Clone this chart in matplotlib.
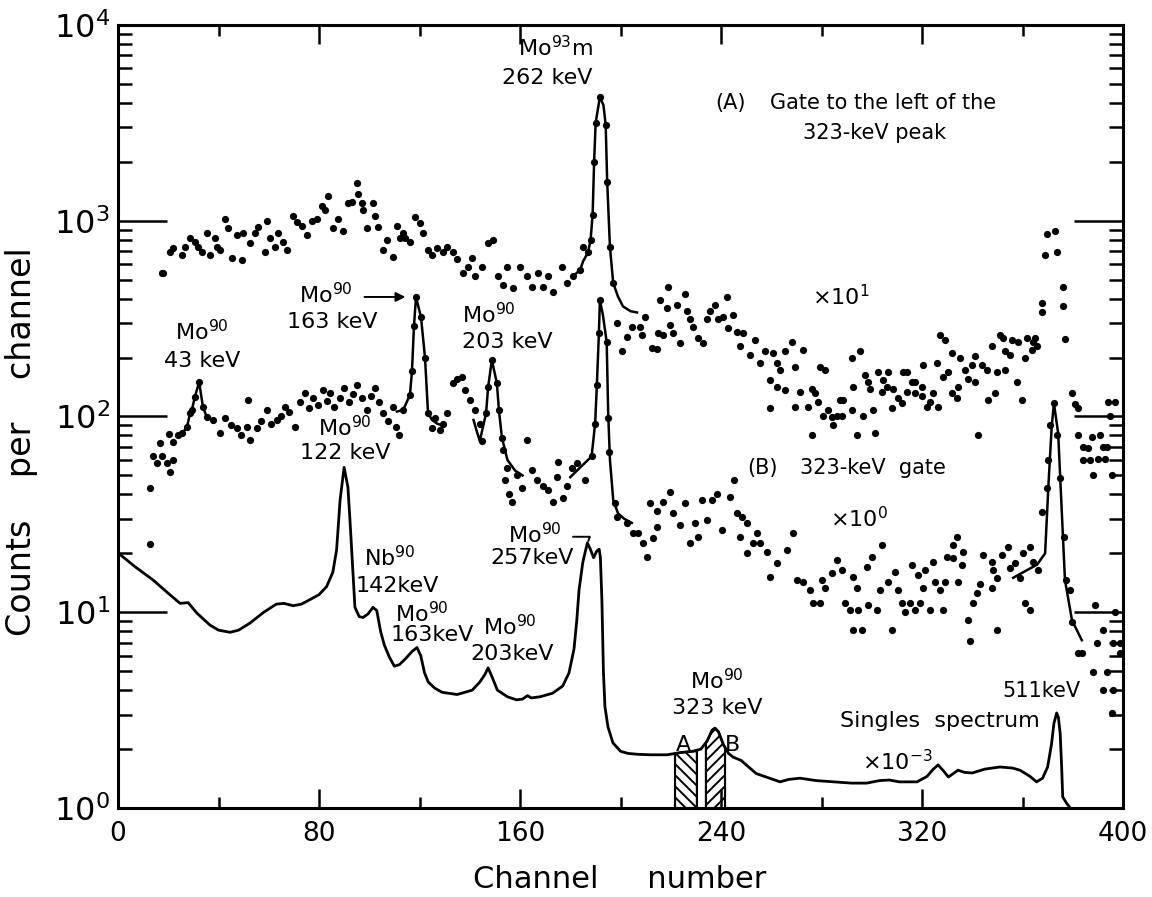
import matplotlib
matplotlib.use("Agg")
import matplotlib.pyplot as plt
from matplotlib.ticker import FixedLocator, LogLocator, MultipleLocator, NullFormatter
import numpy as np

plt.rcParams['font.family'] = ['DejaVu Sans']
plt.rcParams['mathtext.default'] = 'regular'
plt.rcParams['hatch.linewidth'] = 1.4

# (A) gate to the left of the 323-keV peak, x10^1
gate_a_ch = [17.5, 18, 20.7, 22, 25.5, 26.7, 28.7, 30.6, 32, 33.4, 35.4, 36.6, 38.6, 39.4,
             40.6, 42.6, 43.8, 45.4, 47.3, 49.4, 49.8, 52.5, 54.5, 55.7, 58.5, 59.3, 60.5,
             62.5, 63.7, 65.7, 67.2, 69.7, 71.2, 73.2, 75.2, 77.2, 79.2, 81.2, 82.4, 83.6,
             85.6, 87.6, 89.6, 91.5, 93, 95, 95.5, 97, 97.5, 99, 101.5, 102.3, 103.5, 105.5,
             107, 109.5, 111, 112.2, 113.5, 114.2, 116.2, 118.2, 120.2, 121.4, 123.4, 125,
             127, 129.4, 131, 133.3, 135, 137.3, 139.3, 140.9, 142.1, 144.9, 147.3, 149.3,
             151.2, 153.2, 154.8, 157.2, 160, 162.7, 164.8, 167.2, 169.2, 171.1, 173.1,
             176.7, 178.7, 181.1, 183.9, 185.1, 187.1, 188.1, 188.9, 189.5, 190.1, 191.8,
             194.1, 194.7, 195.8, 197.1, 198.6, 200.6, 202.6, 204.6, 207.8, 208.6, 209.8,
             212.5, 214.5, 215, 215.7, 217, 218.5, 219, 219.7, 221, 222.5, 223.7, 225.7,
             226.5, 227.7, 228.9, 231, 232.8, 234.4, 235.6, 237.6, 238.8, 240.8, 242.4,
             242.8, 244.8, 246.4, 247.6, 248.8, 251.5, 253.5, 255.5, 257.5, 259.5, 259.5,
             260.7, 262.3, 262.3, 263.5, 265.5, 265.5, 268.3, 269.5, 269.5, 271.4, 272.6,
             274.6, 276.2, 276.2, 277.4, 278.6, 279.4, 280.6, 281.4, 282.6, 284.2, 284.6,
             286.2, 287.4, 288.2, 288.6, 292.1, 292.1, 292.6, 294.1, 295.3, 296.5, 297.3,
             298.5, 299.3, 300.5, 301.3, 302.5, 304, 304.5, 306, 306.5, 308, 308.5, 310.5,
             312, 312.5, 314, 314, 316, 317.2, 317.2, 320, 320, 320.4, 322, 323.2, 324.4,
             326, 326.4, 327.2, 328.4, 329.2, 330.4, 331.9, 331.9, 333.9, 334.4, 335.1,
             337.1, 338.3, 339.9, 341.1, 341.1, 342.3, 343.9, 345.9, 346.3, 347.9, 349,
             349.9, 351, 352.3, 353.1, 353.1, 355, 355.8, 357.8, 358.2, 359.8, 361, 361.8,
             363.8, 364.2, 365, 365.8, 367.8, 367.8, 369, 369.7, 373, 373.7, 376, 376,
             376.9, 379.7, 381, 382, 382, 384, 384, 386, 386.8, 387.6, 388, 390, 390.8, 392,
             392.8, 393.6, 394, 394.8, 395.6, 396.8]
gate_a_cnt = [541, 541, 692, 728, 668, 735, 815, 780, 735, 692, 870, 668, 815, 735,
              710, 1024, 915, 645, 845, 630, 870, 770, 870, 930, 692, 1000, 820,
              735, 870, 780, 710, 1062, 980, 945, 845, 1000, 1024, 1196, 1130, 1340,
              915, 1024, 890, 1226, 1240, 1560, 1370, 1226, 1130, 915, 1226, 1062, 930, 710,
              800, 650, 945, 820, 870, 820, 780, 1040, 975, 870, 710, 668,
              728, 692, 735, 692, 640, 541, 580, 645, 520, 580, 770, 800,
              520, 470, 580, 455, 580, 520, 460, 541, 460, 520, 430,
              580, 480, 520, 560, 735, 690, 800, 1070, 1995, 3160, 4290,
              3100, 1580, 735, 480, 300, 215, 255, 285, 285, 261, 322,
              225, 222, 266, 393, 261, 358, 460, 292, 266, 370, 237, 420,
              345, 315, 285, 252, 237, 315, 345, 370, 315, 322, 410,
              283, 330, 270, 230, 266, 205, 246, 188, 215, 153, 111,
              211, 188, 141, 172, 215, 136, 240, 180, 112, 134, 218,
              112, 80.5, 139, 132, 118, 180, 101, 172, 108, 99, 90,
              101, 121, 101, 121, 108, 199, 141, 80.5, 215, 101, 163,
              150, 139, 108, 82, 169, 134, 153, 141, 169, 111, 139, 124,
              117, 169, 169, 134, 150, 150, 132, 141, 128, 184, 112, 118, 132,
              188, 112, 261, 159, 246, 169, 211, 132, 124, 141, 199,
              172, 156, 184, 203, 150, 80.5, 184, 172, 121, 230, 132,
              169, 261, 252, 172, 215, 205, 246, 150, 240, 121, 199, 252,
              218, 240, 252, 228, 340, 380, 668, 860, 890, 690, 460, 365,
              250, 132, 116, 110, 80.5, 70, 60, 69, 60, 78.5, 50, 61, 80.5, 70,
              61, 70, 118, 101, 50, 118]

# (B) 323-keV gate, x10^0
gate_b_ch = [12.7, 12.7, 14, 15.5, 16.7, 17.6, 19.4, 20.4, 20.7, 22, 22, 24, 25.5, 27.4,
             28.7, 29.4, 30.6, 32.3, 33.8, 35.3, 37.8, 40.6, 42.6, 45, 47.3, 49, 51.2, 51.7,
             52.5, 55.2, 57, 59.3, 61, 63.2, 65, 66.4, 68, 70.4, 72.5, 74.4, 76, 77.6, 79.5,
             81.6, 83, 84.4, 86, 88.4, 90, 92, 93.5, 95, 97, 99, 100.5, 102.3, 104, 105.5,
             107.5, 109.5, 110.5, 112, 113.5, 116.2, 117, 117.8, 118.6, 120.6, 122.2, 123.4,
             125, 126.2, 128, 129.5, 131, 133.4, 135, 137, 138, 140, 142, 144, 145, 146.5,
             147.3, 148.8, 150.8, 151.6, 152.8, 153.3, 154, 155, 155.5, 157, 158.7, 160.6,
             162.7, 164.7, 166.7, 169, 171, 173, 174.6, 175, 177, 178.6, 180.6, 182.6, 185.8,
             188.5, 189.9, 190.6, 191.4, 191.8, 194.5, 195.1, 195.3, 197.8, 198.5, 202.5,
             205, 207, 209, 210.4, 211.7, 213, 214.4, 214.4, 217, 219.7, 221, 223.8, 225.7,
             227.7, 229.7, 231, 232.4, 234.4, 236.4, 238.4, 240.4, 243.6, 245.2, 246.4,
             247.6, 248.4, 250.3, 250.3, 252.8, 254.3, 255.5, 258.2, 259.5, 262.3, 266.3,
             268.7, 270.2, 272.7, 275.4, 276.6, 279.4, 280, 281.4, 284, 286, 288, 289.4,
             291.3, 292.6, 292.6, 294, 294.6, 296, 298, 298.6, 300, 302, 303.3, 304, 306.5,
             308, 309.3, 310.5, 312, 313.3, 315.2, 316, 317.2, 318.4, 319.2, 320.4, 321.2,
             323.2, 324.4, 325.2, 327.2, 328.4, 329.2, 330, 332.4, 332.4, 333.8, 334.4, 336,
             336.4, 338.3, 339, 340.3, 341.8, 343, 344.3, 347.8, 347.8, 348.3, 349.8, 349.8,
             351.8, 354.3, 355, 357, 359, 360.3, 361, 363, 363, 364.3, 366, 367.8, 369.7,
             370.2, 371, 372.5, 373.7, 375, 376.5, 377.3, 379, 379.7, 382, 383.6, 388, 389,
             389.6, 392, 392, 393.6, 395.6, 396, 396, 397, 398.8, 398.8]
gate_b_cnt = [22.3, 43, 62.5, 58, 73, 63, 58, 81, 52, 60, 74, 80, 82, 88,
              104, 108, 126, 150, 112, 99.5, 96, 82, 98.6, 90, 87, 80, 88, 121,
              76, 87, 95, 108, 92, 96, 100, 112, 105, 88, 118, 132, 110, 124, 115,
              136, 120, 132, 112, 124, 140, 118, 130, 145, 125, 108, 128, 140, 118, 104,
              95, 112, 88, 80, 108, 129, 170, 289, 408, 322, 199, 104,
              87, 98.6, 85, 92, 104, 148, 155, 159, 136, 121, 108, 92, 75, 104,
              141, 194, 148, 108, 78, 67.5, 47.5, 54.5, 40, 36.7, 50, 43,
              75.5, 53, 47.5, 44, 42, 36.7, 49, 58.5, 38.5, 44, 54.5, 58, 47.5,
              62.5, 92, 145, 266, 393, 240, 98.6, 66, 36, 30.6, 28.6,
              25.5, 25.5, 22.6, 19.2, 36, 24, 27.3, 33, 36.7, 41, 32, 28, 36,
              22.6, 28.6, 24.3, 37.5, 29.5, 37.5, 40, 26.3, 39, 47.5, 32,
              24.3, 30.6, 28.6, 20, 22.6, 25.5, 22.6, 20.3, 15.1, 17.8, 20.8,
              25.5, 14.6, 14.3, 13, 11.1, 11.1, 14.6, 13.3, 15.8, 18.5, 16.5, 11.1,
              10.3, 15.1, 8.1, 13.3, 10.3, 8.1, 17, 10.9, 19.2, 10.3, 13, 22, 14.3,
              8.1, 16, 13, 11.1, 10, 11.1, 17.5, 10.3, 15.5, 11.1, 13.3, 16.5,
              10.3, 18, 14.3, 13, 10.3, 14.3, 19.2, 19, 22, 24.3, 14.3, 17.5,
              20.3, 9.1, 7.1, 11.1, 12.5, 14, 19.6, 18, 13.3, 16.5, 15, 8.1,
              19.6, 21.5, 16.8, 17.8, 15, 20, 11.1, 21.5, 10.3, 18, 16.5, 32.5, 43,
              60, 90.5, 117, 80, 48.6, 24.3, 14.6, 13, 8.9, 6.2, 6.2, 4.95, 10.9,
              7, 8.1, 4.0, 4.95, 3.05, 4.0, 7.0, 10, 7.0, 6.2]

# hand-drawn curves through the gated peaks
fit_a_ch = [181, 183.9, 185.1, 187.1, 188.1, 188.9, 189.5, 190.1, 191.8, 193.2, 194.1, 194.7,
            195.8, 197.1, 199, 201, 204, 206.6]
fit_a_cnt = [520, 560, 620, 690, 800, 1070, 1995, 3160, 4290, 3900, 3100, 1580,
             735, 480, 410, 365, 345, 340]
fit_b43_ch = [23.5, 25.5, 27.4, 28.7, 29.4, 30.6, 32.3, 33.8, 35.3, 37.8]
fit_b43_cnt = [80, 82, 88, 104, 108, 126, 150, 112, 99.5, 96]
fit_b163_ch = [111, 113.5, 116.2, 117, 117.8, 118.6, 120.6, 122.2, 123.4, 125, 127, 129]
fit_b163_cnt = [106, 108, 129, 170, 289, 408, 322, 199, 104, 96, 92, 90]
fit_b203_ch = [141.5, 142.8, 144, 146.5, 147.3, 148.8, 150.8, 151.6, 152.8, 155, 158, 161]
fit_b203_cnt = [96, 84, 75, 104, 141, 194, 148, 108, 78, 60, 53, 50]
fit_b262_ch = [180, 184, 188.5, 189.9, 190.6, 191.4, 191.8, 193, 194.5, 195.1, 195.8, 197.1,
               199, 201.5, 204.5]
fit_b262_cnt = [49, 55, 62.5, 92, 145, 266, 393, 330, 240, 104, 60, 37.5,
                32, 30, 28.6]
fit_b511_ch = [356.3, 361, 365.8, 369, 370.3, 371.6, 372.5, 374.2, 376.1, 376.9, 379.7, 383.6]
fit_b511_cnt = [15, 16.2, 17.5, 20, 44, 88, 117, 82, 24.3, 14.6, 9.1, 7.2]

# singles spectrum, x10^-3
singles_ch = [0, 7, 14, 20, 24.7, 27.9, 31.4, 36.6, 40, 44.6, 48, 52.5, 58, 63, 66, 69.7,
              73, 76.4, 80, 83, 85.5, 87, 88.4, 90, 91.5, 92.3, 93, 94.3, 96, 97.5, 99.5,
              101.5, 103, 104.5, 106, 108, 110, 112, 114.5, 117, 119, 120.5, 122, 123.5,
              126, 129, 135, 141, 144, 146, 147.3, 148.8, 151, 155, 158.6, 161, 163, 164.5,
              168, 173, 177, 179.5, 181.5, 182.6, 183.5, 185, 186.8, 188, 189.3, 190.5,
              191.5, 192, 192.6, 193.2, 193.8, 195, 197, 200, 203, 207, 212, 218.5, 224,
              229, 232, 234.5, 236.5, 237.6, 239, 241, 243, 244.8, 248, 251, 254, 258,
              263.5, 267, 271.4, 278, 285, 292, 298, 303, 307, 311, 318, 322, 324.5, 326.4,
              328.5, 330.5, 332.5, 334.3, 337, 340, 345, 351, 356, 359, 363, 365.6, 368,
              370, 371.5, 372.5, 373.6, 374.3, 375, 375.6, 376, 377.5, 379]
singles_cnt = [20.1, 17, 14.6, 12.5, 11.1, 11.2, 9.9, 8.6, 8.1, 7.9, 8.1, 8.8, 10, 11.0, 11.1,
               10.8, 11, 11.6, 12.3, 13.5, 16, 20.8, 37.5, 55, 43.6, 30, 20.8, 10.6, 9.5, 9.4,
               9.8, 10.6, 10.2, 8, 6.8, 5.9, 5.3, 5.4, 5.8, 6.3, 6.6, 6.0, 4.9, 4.4,
               4.1, 3.9, 3.8, 4.0, 4.4, 4.8, 5.2, 4.7, 4.0, 3.7, 3.57, 3.6, 3.75, 3.65,
               3.7, 3.86, 4.2, 4.9, 6.5, 9.1, 13, 18, 22.6, 21, 19, 20.5,
               21, 19, 11.5, 5, 3.3, 2.6, 2.15, 1.95, 1.9, 1.88, 1.87, 1.87, 1.92,
               1.95, 2.0, 2.2, 2.5, 2.56, 2.45, 2.1, 1.9, 1.82, 1.75, 1.62, 1.5, 1.44,
               1.36, 1.4, 1.42, 1.38, 1.36, 1.34, 1.34, 1.38, 1.39, 1.36, 1.36, 1.45, 1.58, 1.66,
               1.55, 1.44, 1.5, 1.56, 1.52, 1.51, 1.58, 1.62, 1.6, 1.56, 1.45, 1.36, 1.42,
               1.62, 2.1, 2.7, 3.06, 2.9, 2.4, 1.6, 1.14, 1.06, 1.0]

gate_a_range = (221.7, 230.4)
gate_b_range = (234.0, 241.6)

fig = plt.figure(figsize=(11.52, 8.97), dpi=100)
ax = fig.add_axes([118 / 1152, 1 - 808 / 897, 1005 / 1152, 783 / 897])

ax.plot(gate_a_ch, gate_a_cnt, 'o', color='black', ms=5.2, mec='none')
ax.plot(gate_b_ch, gate_b_cnt, 'o', color='black', ms=5.2, mec='none')
ax.plot(fit_a_ch, fit_a_cnt, '-', color='black', lw=1.8)
for xs, ys in [(fit_b43_ch, fit_b43_cnt), (fit_b163_ch, fit_b163_cnt),
               (fit_b203_ch, fit_b203_cnt), (fit_b262_ch, fit_b262_cnt),
               (fit_b511_ch, fit_b511_cnt)]:
    ax.plot(xs, ys, '-', color='black', lw=1.8)
ax.plot(singles_ch, singles_cnt, '-', color='black', lw=2.0)

# gate windows hatched under the singles curve
for rng, hatch in [(gate_a_range, '\\\\\\'), (gate_b_range, '///')]:
    xs = np.linspace(rng[0], rng[1], 30)
    ys = np.interp(xs, singles_ch, singles_cnt)
    ax.fill_between(xs, 1, ys, facecolor='white', edgecolor='black', hatch=hatch, lw=1.5)
    ax.vlines([xs[0], xs[-1]], 1, [ys[0], ys[-1]], color='black', lw=1.5)

ax.set_yscale('log')
ax.set_xlim(0, 400)
ax.set_ylim(1, 1e4)

ax.xaxis.set_major_locator(MultipleLocator(80))
ax.xaxis.set_minor_locator(MultipleLocator(40))
ax.yaxis.set_major_locator(FixedLocator([1, 10, 100, 1000, 10000]))
ax.yaxis.set_minor_locator(LogLocator(base=10, subs=np.arange(2, 10)))
ax.yaxis.set_minor_formatter(NullFormatter())
ax.set_yticklabels(['$10^{0}$', '$10^{1}$', '$10^{2}$', '$10^{3}$', '$10^{4}$'])

ax.tick_params(axis='both', which='both', direction='in', top=True, right=True, width=1.8)
ax.tick_params(axis='x', which='major', length=14, labelsize=19, pad=9)
ax.tick_params(axis='x', which='minor', length=8)
ax.tick_params(axis='y', which='major', length=35, labelsize=23, pad=6)
ax.tick_params(axis='y', which='minor', length=10)
for s in ax.spines.values():
    s.set_linewidth(2.2)

fig.text(22 / 1152, 1 - 442 / 897, 'Counts    per    channel', rotation=90,
         ha='center', va='center', fontsize=24)
fig.text(620 / 1152, 1 - 879 / 897, 'Channel     number', ha='center', va='center',
         fontsize=22)

fs = 16
def lab(x, y, s, ha='center', size=fs):
    ax.text(x, y, s, ha=ha, va='center', fontsize=size)

lab(174, 7640, 'Mo$^{93}$m')
lab(171, 5360, '262 keV')
lab(237.6, 4000, '(A)', ha='left', size=15)
lab(259.5, 4000, 'Gate to the left of the', ha='left', size=15)
lab(272.6, 2806, '323-keV peak', ha='left', size=15)
lab(276.2, 408, '×10$^{1}$', ha='left')
lab(82.8, 420, 'Mo$^{90}$')
lab(85.2, 304, '163 keV')
ax.annotate('', xy=(115.5, 408), xytext=(97, 408),
            arrowprops=dict(arrowstyle='-|>', color='black', lw=1.4, mutation_scale=14))
lab(137, 330, 'Mo$^{90}$', ha='left')
lab(137, 240, '203 keV', ha='left')
lab(33.4, 270, 'Mo$^{90}$')
lab(33.4, 192, '43 keV')
lab(90.3, 88, 'Mo$^{90}$')
lab(90.3, 65, '122 keV')
lab(108.3, 19, 'Nb$^{90}$')
lab(111, 13.6, '142keV')
lab(121, 9.9, 'Mo$^{90}$')
lab(125, 7.66, '163keV')
lab(156, 8.4, 'Mo$^{90}$')
lab(157, 6.1, '203keV')
lab(166, 25, 'Mo$^{90}$')
lab(165, 18.9, '257keV')
ax.annotate('', xy=(186.8, 22.4), xytext=(180, 24.3),
            arrowprops=dict(arrowstyle='-', color='black', lw=1.4,
                            connectionstyle='angle,angleA=0,angleB=70,rad=0'))
lab(238.4, 4.5, 'Mo$^{90}$')
lab(238.4, 3.24, '323 keV')
lab(224.9, 2.1, 'A')
lab(244.4, 2.1, 'B')
lab(296, 1.72, '×10$^{-3}$', ha='left')
lab(287.4, 2.78, 'Singles  spectrum', ha='left')
lab(351.8, 3.96, '511keV', ha='left', size=15)
lab(250.3, 54.6, '(B)', ha='left', size=15)
lab(271.4, 54.6, '323-keV  gate', ha='left', size=15)
lab(283.4, 30, '×10$^{0}$', ha='left')

fig.savefig('out.png', dpi=100)
